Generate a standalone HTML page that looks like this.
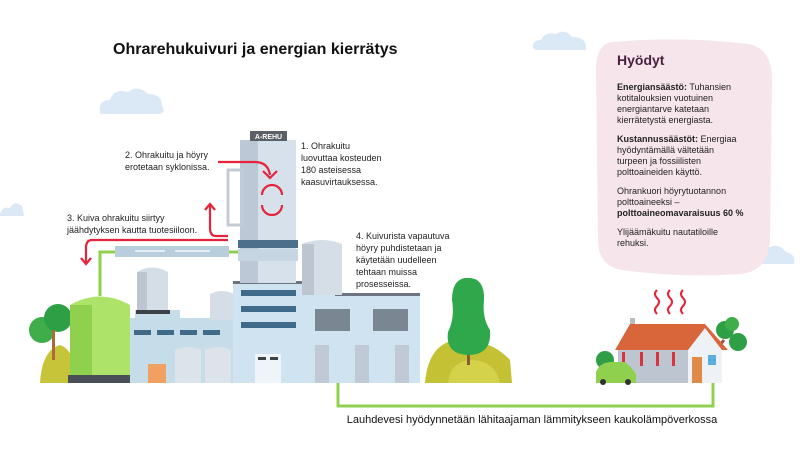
<!DOCTYPE html>
<html><head><meta charset="utf-8"><style>
html,body{margin:0;padding:0;background:#fff}
svg{display:block}
text{font-family:"Liberation Sans",sans-serif}
</style></head><body>
<svg width="800" height="450" viewBox="0 0 800 450" xmlns="http://www.w3.org/2000/svg">
<!-- clouds -->
<g fill="#dbe8f6">
<path d="M100 112 Q98 100 110 100 Q114 88 128 92 Q138 84 148 94 Q162 94 162 106 Q166 112 160 114 L104 114 Q98 114 100 112Z"/>
<path d="M533 48 Q532 40 541 40 Q545 31 556 34 Q565 28 572 37 Q585 37 586 46 L586 50 L536 50 Z"/>
<path d="M745 262 Q744 254 752 254 Q756 244 768 248 Q778 242 786 252 Q796 254 794 264 L748 264 Z"/>
<path d="M0 214 Q2 206 10 208 Q14 200 22 206 L24 216 L0 216Z"/>
</g>
<!-- pink panel -->
<path d="M612 42 Q680 36 748 44 Q772 48 772 80 L770 240 Q768 272 740 274 Q680 278 622 270 Q598 266 598 240 L596 70 Q596 44 612 42Z" fill="#f6e5ea"/>
<text x="617" y="65" font-size="14" font-weight="bold" fill="#4a2140">Hyödyt</text>
<g font-size="9" fill="#222">
<text x="617" y="90"><tspan font-weight="bold">Energiansäästö:</tspan> Tuhansien</text>
<text x="617" y="101">kotitalouksien vuotuinen</text>
<text x="617" y="112">energiantarve katetaan</text>
<text x="617" y="123">kierrätetystä energiasta.</text>
<text x="617" y="142"><tspan font-weight="bold">Kustannussäästöt:</tspan> Energiaa</text>
<text x="617" y="153">hyödyntämällä vältetään</text>
<text x="617" y="164">turpeen ja fossiilisten</text>
<text x="617" y="175">polttoaineiden käyttö.</text>
<text x="617" y="194">Ohrankuori höyrytuotannon</text>
<text x="617" y="205">polttoaineeksi –</text>
<text x="617" y="216" font-weight="bold">polttoaineomavaraisuus 60 %</text>
<text x="617" y="235">Ylijäämäkuitu nautatiloille</text>
<text x="617" y="246">rehuksi.</text>
</g>
<!-- title -->
<text x="113" y="54" font-size="16" font-weight="bold" fill="#111">Ohrarehukuivuri ja energian kierrätys</text>
<!-- step texts -->
<g font-size="9" fill="#222">
<text x="125" y="158">2. Ohrakuitu ja höyry</text>
<text x="125" y="170">erotetaan syklonissa.</text>
<text x="301" y="149">1. Ohrakuitu</text>
<text x="301" y="161">luovuttaa kosteuden</text>
<text x="301" y="173">180 asteisessa</text>
<text x="301" y="185">kaasuvirtauksessa.</text>
<text x="67" y="221">3. Kuiva ohrakuitu siirtyy</text>
<text x="67" y="233">jäähdytyksen kautta tuotesiiloon.</text>
<text x="356" y="239">4. Kuivurista vapautuva</text>
<text x="356" y="251">höyry puhdistetaan ja</text>
<text x="356" y="263">käytetään uudelleen</text>
<text x="356" y="275">tehtaan muissa</text>
<text x="356" y="287">prosesseissa.</text>
</g>
<!-- green pipe bottom -->
<path d="M338 383 V406 H713 V383" fill="none" stroke="#8fd14f" stroke-width="3"/>
<text x="532" y="423" font-size="11" text-anchor="middle" fill="#111">Lauhdevesi hyödynnetään lähitaajaman lämmitykseen kaukolämpöverkossa</text>
<!-- ground bushes left -->
<path d="M40 383 Q42 350 60 345 Q75 350 78 383Z" fill="#c8c43a"/>
<circle cx="42" cy="330" r="13" fill="#3fae4a"/><circle cx="58" cy="318" r="14" fill="#2e9f45"/>
<rect x="52" y="330" width="3" height="30" fill="#b06a3a"/>
<!-- silo -->
<path d="M70 305 Q100 288 130 305 V383 H70Z" fill="#aee36a"/>
<rect x="70" y="305" width="22" height="70" fill="#8fd14f"/>
<rect x="68" y="375" width="64" height="8" fill="#4a4e57"/>
<!-- green pipe up -->
<path d="M100 296 V252 H240" fill="none" stroke="#8fd14f" stroke-width="3"/>
<rect x="115" y="246" width="114" height="11" fill="#b9cedd"/>
<rect x="135" y="250" width="30" height="2" fill="#e6eef5"/><rect x="175" y="250" width="35" height="2" fill="#e6eef5"/>
<!-- left building -->
<rect x="130" y="318" width="105" height="65" fill="#c6dce9"/>
<rect x="135" y="310" width="45" height="10" fill="#c6dce9"/>
<g fill="#3f6a8a"><rect x="134" y="330" width="17" height="5"/><rect x="157" y="330" width="17" height="5"/><rect x="180" y="330" width="17" height="5"/><rect x="203" y="330" width="17" height="5"/></g>
<path d="M137 272 Q152 263 168 272 V310 H137Z" fill="#d5dde6"/><rect x="137" y="272" width="10" height="38" fill="#bcc5d0"/>
<rect x="136" y="310" width="34" height="4" fill="#3d4148"/>
<path d="M210 294 Q222 288 234 294 V320 H210Z" fill="#d5dde6"/>
<path d="M175 350 Q188 344 201 350 V383 H175Z" fill="#dde3ea"/><path d="M205 350 Q218 344 231 350 V383 H205Z" fill="#dde3ea"/>
<rect x="148" y="364" width="18" height="19" fill="#f0a060"/>
<!-- main building -->
<rect x="233" y="283" width="103" height="100" fill="#cfe3f0"/>
<rect x="233" y="281" width="103" height="3" fill="#6a7580"/>
<g fill="#3f6a8a"><rect x="241" y="290" width="55" height="6"/><rect x="241" y="306" width="55" height="6"/><rect x="241" y="322" width="55" height="6"/></g>
<rect x="255" y="354" width="26" height="29" fill="#eef4f8"/><rect x="258" y="357" width="8" height="3" fill="#3d4148"/><rect x="270" y="357" width="8" height="3" fill="#3d4148"/>
<!-- tower -->
<rect x="240" y="140" width="56" height="143" fill="#d7e1ec"/>
<rect x="240" y="140" width="18" height="143" fill="#bcc8d6"/>
<rect x="228" y="170" width="14" height="55" fill="none" stroke="#c3ccd6" stroke-width="3"/>
<rect x="250" y="131" width="37" height="10" fill="#5b5f66"/>
<text x="268.5" y="139" font-size="7" font-weight="bold" fill="#fff" text-anchor="middle">A-REHU</text>
<rect x="238" y="240" width="60" height="8" fill="#4d6f8c"/>
<rect x="238" y="249" width="60" height="12" fill="#c6d5e2"/>
<!-- red arrows -->
<g fill="none" stroke="#e5243b" stroke-width="2.2">
<path d="M218 162 H255 Q268 162 270 175"/>
<path d="M263 171 L270 178 L277 171"/>
<path d="M262 195 A10 10 0 0 1 282 195"/><path d="M282 205 A10 10 0 0 1 262 205"/>
<path d="M228 236 H216 Q210 236 210 228 V205"/><path d="M205 210 L210 204 L215 210"/>
<path d="M228 240 H92 Q86 240 86 248 V263"/><path d="M81 258 L86 264 L91 258"/>
</g>
<!-- right building -->
<rect x="335" y="295" width="85" height="88" fill="#cfe3f0"/>
<rect x="335" y="293" width="85" height="3" fill="#6a7580"/>
<path d="M302 244 Q322 236 342 244 V295 H302Z" fill="#d5dde6"/><rect x="302" y="244" width="12" height="51" fill="#bcc5d0"/>
<g fill="#55606b"><rect x="315" y="309" width="35" height="22" opacity=".7"/><rect x="373" y="309" width="35" height="22" opacity=".7"/></g>
<g fill="#bfcad6"><rect x="315" y="345" width="14" height="38"/><rect x="355" y="345" width="14" height="38"/><rect x="395" y="345" width="14" height="38"/></g>
<!-- tree & bushes -->
<path d="M425 383 Q428 345 455 340 Q490 338 510 360 L512 383Z" fill="#c4c135"/>
<path d="M448 383 Q450 362 470 360 Q495 360 500 383Z" fill="#d4d24a"/>
<rect x="467" y="350" width="3" height="15" fill="#8a5a30"/>
<path d="M465 278 Q485 276 484 300 Q482 318 490 330 Q492 355 468 355 Q445 354 448 332 Q455 318 452 300 Q452 280 465 278Z" fill="#2ea84a"/>
<!-- house -->
<g stroke="#e5243b" stroke-width="2" fill="none">
<path d="M657 290 q-4 4 0 8 q4 4 0 8 q-4 4 0 8"/><path d="M670 290 q-4 4 0 8 q4 4 0 8 q-4 4 0 8"/><path d="M683 290 q-4 4 0 8 q4 4 0 8 q-4 4 0 8"/>
</g>
<rect x="630" y="318" width="5" height="10" fill="#bbb"/>
<path d="M720 383 V345 L724 340" stroke="#a0553a" stroke-width="3" fill="none"/>
<circle cx="725" cy="330" r="9" fill="#2e9f45"/><circle cx="738" cy="342" r="9" fill="#2e9f45"/><circle cx="732" cy="324" r="7" fill="#3fae4a"/>
<path d="M615 350 L630 324 L705 324 L728 350Z" fill="#d9653a"/>
<rect x="618" y="350" width="70" height="33" fill="#bcc5d0"/>
<path d="M688 350 L705 328 L722 350 V383 H688Z" fill="#eef2f6"/>
<rect x="692" y="357" width="10" height="26" fill="#e08a4a"/>
<rect x="708" y="355" width="8" height="10" fill="#5aaee0"/>
<g fill="#d9343b"><rect x="622" y="352" width="3" height="14"/><rect x="640" y="352" width="3" height="14"/><rect x="656" y="352" width="3" height="14"/><rect x="672" y="352" width="3" height="14"/></g>
<circle cx="605" cy="360" r="9" fill="#2e9f45"/>
<path d="M596 383 V372 Q600 362 612 362 L625 362 Q632 368 636 374 V383Z" fill="#8fd14f"/>
<circle cx="603" cy="382" r="3" fill="#333"/><circle cx="628" cy="382" r="3" fill="#333"/>
</svg>
</body></html>
